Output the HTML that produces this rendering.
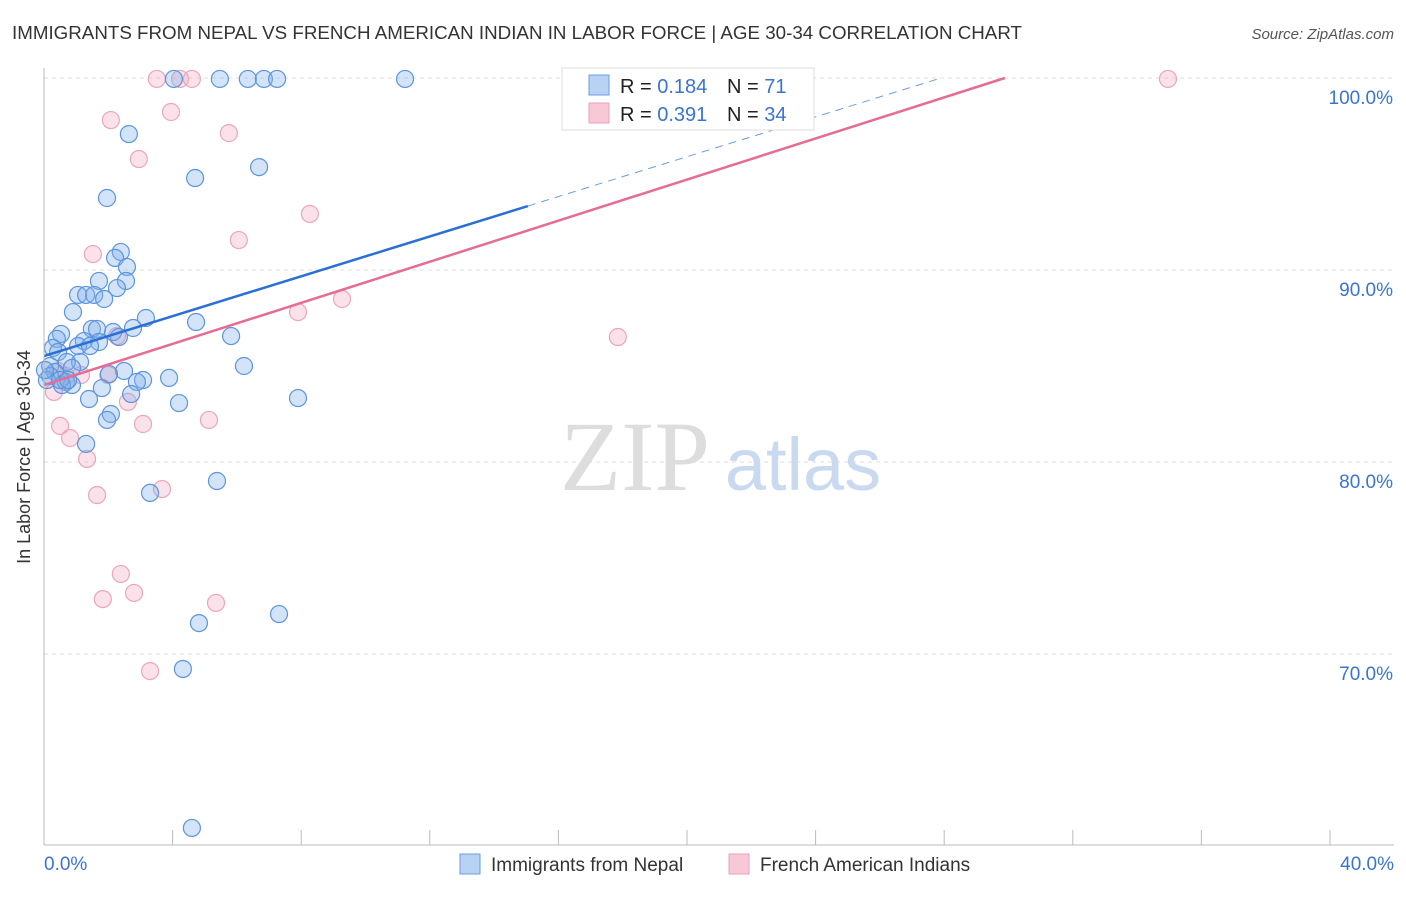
<!DOCTYPE html>
<html><head><meta charset="utf-8"><style>
body{margin:0;background:#fff;font-family:"Liberation Sans",sans-serif;}
</style></head><body>
<svg width="1406" height="892" xmlns="http://www.w3.org/2000/svg" style="font-family:'Liberation Sans',sans-serif">
<text x="12" y="39" font-size="18" fill="#333" textLength="1010" lengthAdjust="spacingAndGlyphs">IMMIGRANTS FROM NEPAL VS FRENCH AMERICAN INDIAN IN LABOR FORCE | AGE 30-34 CORRELATION CHART</text>
<text x="1394" y="39" font-size="15" fill="#555" font-style="italic" text-anchor="end">Source: ZipAtlas.com</text>
<g id="grid"></g>
<text x="635" y="490" font-size="100" fill="#ddd" font-family="Liberation Serif,serif" text-anchor="middle">ZIP</text>
<text x="803" y="490" font-size="74" fill="#c9daf0" text-anchor="middle">atlas</text>
<g id="pts"></g>
<g id="lines"></g>
<line x1="44" y1="68" x2="44" y2="845" stroke="#bbb"/>
<line x1="44" y1="845" x2="1394" y2="845" stroke="#bbb"/>
<text x="30" y="457" font-size="18" fill="#333" text-anchor="middle" transform="rotate(-90 30 457)">In Labor Force | Age 30-34</text>
<text x="44" y="870" font-size="19" fill="#3a74d0">0.0%</text>
<text x="1394" y="870" font-size="19" fill="#3a74d0" text-anchor="end">40.0%</text>
<g>
<rect x="562" y="68" width="252" height="62" fill="#fff" stroke="#ddd"/>
<rect x="589" y="75" width="20" height="20" fill="#b8d2f4" stroke="#6a9ee0"/>
<rect x="589" y="103" width="20" height="20" fill="#f8c8d6" stroke="#eaa0b8"/>
<text x="620" y="93" font-size="20" fill="#222">R = <tspan fill="#3a74d0">0.184</tspan></text>
<text x="727" y="93" font-size="20" fill="#222">N = <tspan fill="#3a74d0"> 71</tspan></text>
<text x="620" y="121" font-size="20" fill="#222">R = <tspan fill="#3a74d0">0.391</tspan></text>
<text x="727" y="121" font-size="20" fill="#222">N = <tspan fill="#3a74d0">34</tspan></text>
</g>
<g><rect x="460" y="854" width="20" height="20" fill="#b8d2f4" stroke="#6a9ee0"/><text x="491" y="871" font-size="19" fill="#333">Immigrants from Nepal</text></g>
<g><rect x="729" y="854" width="20" height="20" fill="#f8c8d6" stroke="#eaa0b8"/><text x="760" y="871" font-size="19" fill="#333">French American Indians</text></g>
</svg>
<script>
const yTicks=[100,90,80,70];
const blueX=[4.04,5.47,6.34,6.84,7.25,11.23,2.64,6.69,4.7,1.96,2.39,2.21,2.58,1.71,2.55,2.27,1.06,1.31,1.56,1.87,0.9,3.17,4.73,2.77,1.49,1.65,2.15,0.53,0.4,2.33,5.82,1.24,1.71,1.06,1.43,0.28,0.44,1.12,0.71,0.19,6.22,2.49,2.02,0.87,0.34,0.19,3.89,3.08,2.89,0.68,0.87,0.56,1.8,2.71,1.4,7.9,4.2,2.08,1.96,1.31,3.3,5.38,7.31,4.82,4.32,4.6,0.09,0.5,0.75,0.03];
const blueY=[99.95,99.95,99.95,99.95,99.95,99.95,97.08,95.36,94.79,93.75,90.94,90.63,90.16,89.43,89.43,89.06,88.7,88.7,88.7,88.49,87.81,87.5,87.29,86.98,86.93,86.93,86.77,86.67,86.41,86.51,86.56,86.3,86.25,86.04,86.04,85.94,85.73,85.21,85.21,85,85,84.74,84.58,84.9,84.69,84.48,84.38,84.27,84.17,84.17,84.01,84.01,83.85,83.54,83.28,83.33,83.07,82.5,82.19,80.94,78.39,79.01,72.08,71.61,69.22,60.94,84.27,84.27,84.27,84.79];
const pinkX=[3.51,4.23,4.6,16.92,34.96,2.08,3.95,5.75,2.95,8.27,1.52,6.06,9.27,7.9,17.85,2.27,0.44,1.15,0.68,2.0,0.31,2.61,3.08,5.13,0.5,0.81,1.34,1.65,3.67,2.39,1.83,2.8,5.35,3.3];
const pinkY=[99.95,99.95,99.95,99.95,99.95,97.81,98.23,97.13,95.78,92.92,90.83,91.56,88.49,87.81,86.51,86.56,84.74,84.53,84.48,84.53,83.65,83.13,81.98,82.19,81.88,81.25,80.16,78.28,78.59,74.17,72.86,73.18,72.66,69.11];
const trendBlue=[85.52,0.519], trendPink=[84.01,0.535];
const X=v=>44+v*32.15, Y=v=>78+(100-v)*19.2;
const NS="http://www.w3.org/2000/svg";
const grid=document.getElementById('grid');
function mk(t,a,p){const e=document.createElementNS(NS,t);for(const k in a)e.setAttribute(k,a[k]);p.appendChild(e);return e;}
yTicks.forEach(t=>{
 const l=mk('line',{x1:44,x2:1394,y1:Y(t),y2:Y(t),stroke:'#ddd','stroke-dasharray':'4,4'},grid);
 
 
 const tx=mk('text',{x:1393,y:Y(t)+26,'font-size':19,fill:'#3a74d0','text-anchor':'end'},grid);
 tx.textContent=t.toFixed(1)+'%';
 
 
});
for(let i=1;i<=10;i++){const x=44+i*128.6;const l=mk('line',{x1:x,x2:x,y1:830,y2:845,stroke:'#bbb'},grid);
 
 }
const pts=document.getElementById('pts');
pinkX.forEach((x,i)=>{const c=mk('circle',{cx:X(x),cy:Y(pinkY[i]),r:8.5,fill:'rgba(244,170,195,0.35)',stroke:'#eaa6bd','stroke-width':1.2},pts);
 
 });
blueX.forEach((x,i)=>{const c=mk('circle',{cx:X(x),cy:Y(blueY[i]),r:8.5,fill:'rgba(130,175,235,0.35)',stroke:'#5d95dc','stroke-width':1.2},pts);
 
 });
const lg=document.getElementById('lines');
const bEnd=(100-trendBlue[0])/trendBlue[1];
let l1=mk('line',{x1:X(0),y1:Y(trendBlue[0]),x2:X(15.05),y2:Y(trendBlue[0]+trendBlue[1]*15.05),stroke:'#2a6fd6','stroke-width':2.5},lg);


let l2=mk('line',{x1:X(15.05),y1:Y(trendBlue[0]+trendBlue[1]*15.05),x2:X(bEnd),y2:Y(100),stroke:'#6a9ee0','stroke-width':1,'stroke-dasharray':'8,6'},lg);


const pEnd=(100-trendPink[0])/trendPink[1];
let l3=mk('line',{x1:X(0),y1:Y(trendPink[0]),x2:X(pEnd),y2:Y(100),stroke:'#e66b95','stroke-width':2.5},lg);


</script>
</body></html>
